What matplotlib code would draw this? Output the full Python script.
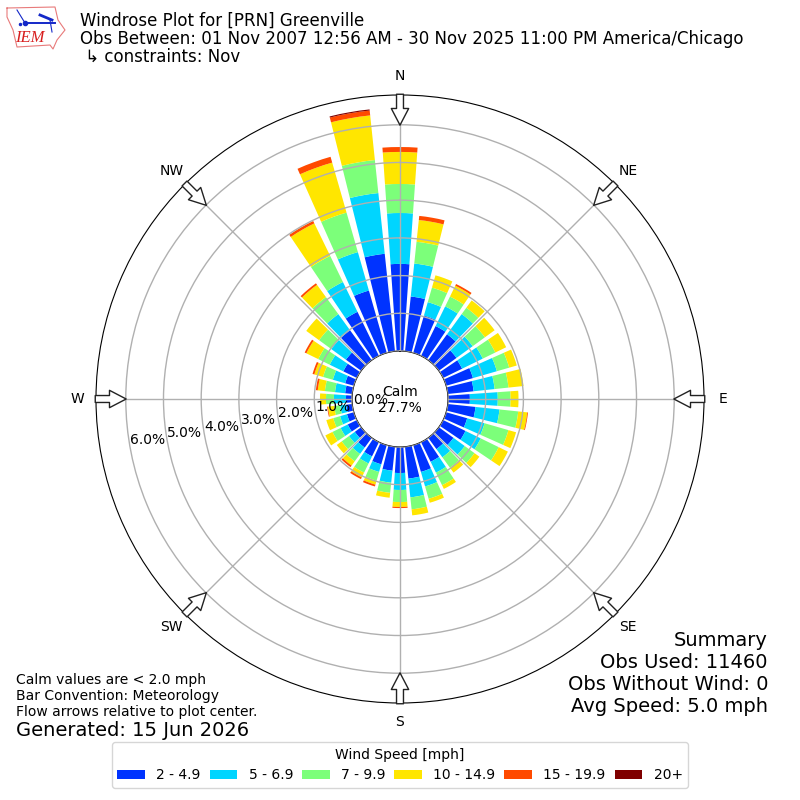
#!/usr/bin/env python3
import numpy as np
import matplotlib
matplotlib.use('Agg')
import matplotlib.pyplot as plt

# percent of observations per 10 degree bin, starting at north, going clockwise
directions = np.arange(0, 360, 10)
speed_labels = ['2 - 4.9', '5 - 6.9', '7 - 9.9', '10 - 14.9', '15 - 19.9', '20+']
colors = ['#0033ff', '#00d5ff', '#7cff7a', '#ffe600', '#ff4a00', '#7f0000']

s2_5 = [2.31, 1.46, 1.03, .88, .85, .58, .56, .74, .69, .58, .74, .58,
        .66, .48, .37, .58, .74, .85, .69, .64, .53, .42, .32, .21,
        .27, .19, .16, .16, .19, .24, .40, .50, .98, 1.30, 1.72, 2.60]
s5_7 = [1.35, .88, .37, .58, .66, .53, .61, .66, .56, .74, .64, .48,
        .45, .37, .27, .32, .40, .50, .45, .32, .21, .21, .21, .19,
        .21, .19, .16, .32, .27, .34, .40, .48, .53, .88, 1.06, 1.62]
s7_10 = [.77, .58, .40, .29, .21, .40, .37, .34, .37, .34, .50, .66,
         .53, .32, .34, .37, .34, .32, .32, .27, .24, .27, .24, .24,
         .24, .19, .16, .21, .27, .27, .34, .40, .56, .77, 1.09, .88]
s10_15 = [.85, .58, .34, .32, .24, .32, .32, .21, .40, .21, .24, .21,
          .27, .16, .16, .11, .11, .16, .13, .13, .11, .14, .14, .16,
          .21, .19, .17, .16, .19, .24, .35, .42, .40, .96, 1.38, 1.19]
s15_20 = [.13, .11, 0, .05, 0, 0, 0, 0, 0, 0, .02, 0,
          0, 0, 0, 0, 0, 0, .03, 0, .05, .05, .05, 0,
          0, 0, .02, 0, .05, .05, .05, 0, .05, .07, .16, .13]
s20 = [0] * 35 + [.03]
series = [s2_5, s5_7, s7_10, s10_15, s15_20, s20]

compass = ['N', 'NE', 'E', 'SE', 'S', 'SW', 'W', 'NW']
r_ticks = [0, 1, 2, 3, 4, 5, 6]

fig = plt.figure(figsize=(8, 8), dpi=100)
ax = fig.add_axes([96 / 800, 97 / 800, 608 / 800, 608 / 800], projection='polar')
ax.set_theta_zero_location('N')
ax.set_theta_direction(-1)

theta = np.deg2rad(directions)
bottom = np.zeros(len(directions))
for vals, label, color in zip(series, speed_labels, colors):
    vals = np.array(vals)
    ax.bar(theta, vals, width=np.deg2rad(8), bottom=bottom, color=color,
           label=label, linewidth=0)
    bottom += vals

ax.set_rorigin(-1.273)
ax.set_ylim(0, 6.79)
ax.set_axisbelow(False)
ax.grid(True, color='#b0b0b0', lw=1)
ax.set_xticks(np.deg2rad(np.arange(0, 360, 45)))
ax.set_xticklabels(compass, fontsize=10)
ax.tick_params(axis='x', pad=3)
ax.set_yticks(r_ticks)
ax.set_yticklabels(['%.1f%%' % v for v in r_ticks], fontsize=10)
ax.set_rlabel_position(260)

# flow arrows on the outer ring
for deg in np.arange(0, 360, 45):
    ax.annotate('', xy=(np.deg2rad(deg), 5.99), xytext=(np.deg2rad(deg), 6.81),
                arrowprops=dict(facecolor='white', edgecolor='#222222', width=5,
                                headwidth=12.5, headlength=12, lw=1),
                annotation_clip=False, zorder=6)

fig.text(400 / 800, 1 - 400 / 800, 'Calm\n27.7%', ha='center', va='center', fontsize=10)

fig.text(80 / 800, 1 - 39 / 800,
         'Windrose Plot for [PRN] Greenville\n'
         'Obs Between: 01 Nov 2007 12:56 AM - 30 Nov 2025 11:00 PM America/Chicago\n'
         ' \u21b3 constraints: Nov',
         fontsize=12, va='center', ha='left', linespacing=1.0)

fig.text(768 / 800, 1 - 673 / 800,
         'Summary\nObs Used: 11460\nObs Without Wind: 0\nAvg Speed: 5.0 mph',
         fontsize=14, ha='right', va='center', linespacing=1.2)
fig.text(16 / 800, 1 - 696 / 800,
         'Calm values are < 2.0 mph\nBar Convention: Meteorology\nFlow arrows relative to plot center.',
         fontsize=10, ha='left', va='center')
fig.text(16 / 800, 1 - 730 / 800, 'Generated: 15 Jun 2026', fontsize=14, ha='left', va='center')

fig.legend(*ax.get_legend_handles_labels(), loc='center', bbox_to_anchor=(0.5, 1 - 765 / 800),
           ncol=6, fontsize=10, title='Wind Speed [mph]', title_fontsize=10, columnspacing=0.65)

# small IEM logo, pixel coordinates of the top left corner
logo = fig.add_axes([0, 1 - 56 / 800, 70 / 800, 56 / 800])
logo.set_xlim(0, 70)
logo.set_ylim(56, 0)
logo.axis('off')
state_x = [7, 55, 58, 65, 57, 53, 50, 17, 13, 7, 7]
state_y = [8, 7, 20, 30, 40, 49, 45, 47, 30, 17, 8]
logo.plot(state_x, state_y, color='#e87a7a', lw=0.8)
logo.plot([25, 55], [23, 23], color='#1428c8', lw=1.4)
logo.plot([17, 25], [10, 23], color='#1428c8', lw=0.8)
logo.plot([40, 52], [15, 20], color='#1428c8', lw=2)
logo.plot([50, 52], [20, 32], color='#1428c8', lw=0.8)
logo.plot([25], [23], 'o', color='#1428c8', ms=3)
logo.plot([20], [24], 'o', color='#1428c8', ms=1.5)
logo.text(30, 38, 'IEM', color='#d81e1e', fontsize=12, family='Liberation Serif',
          style='italic', ha='center', va='center')

fig.savefig('out.png', dpi=100)
